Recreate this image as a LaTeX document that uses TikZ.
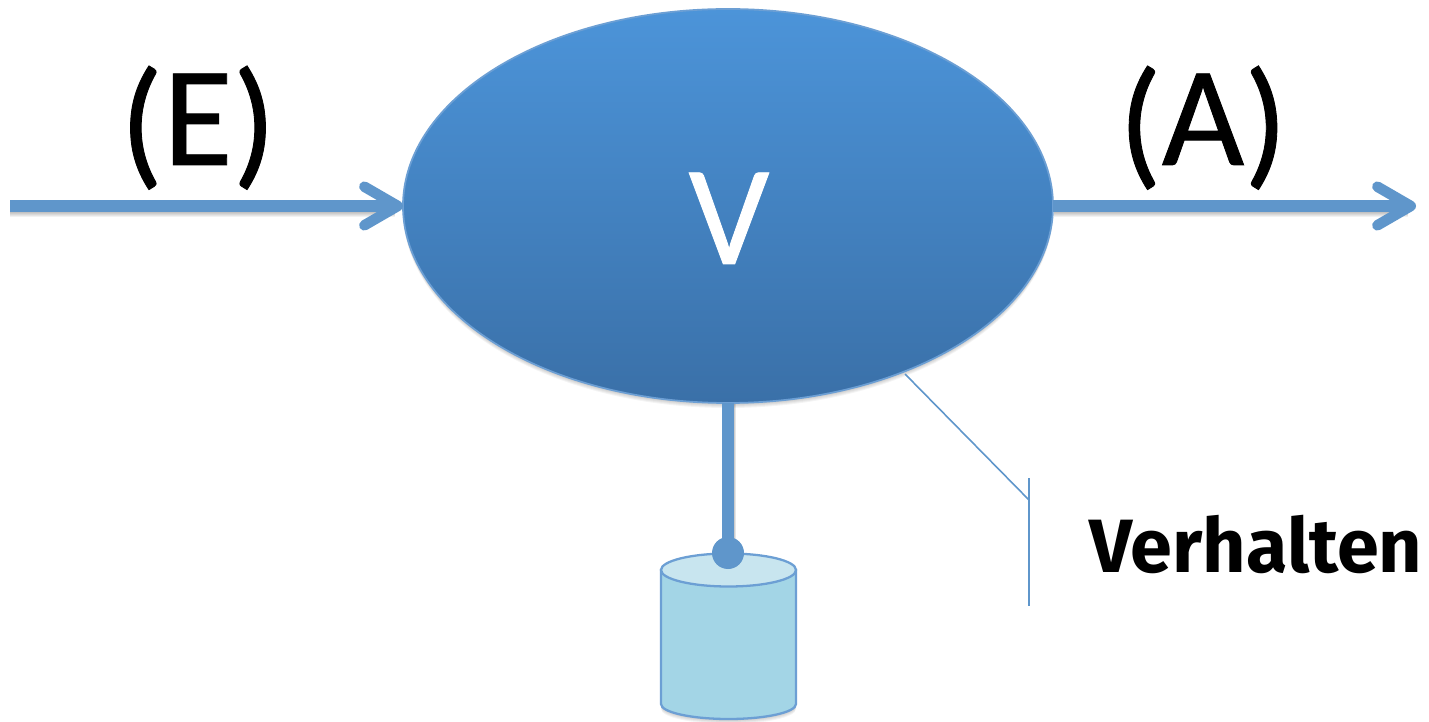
\documentclass[tikz,border=0pt]{standalone}
\usepackage{fontspec}
\setmainfont{Carlito}
\newfontfamily\bigfont{Carlito}[FakeBold=0.6]
\newfontfamily\handfont{Fira Sans}[BoldFont={Fira Sans Bold}]
\usetikzlibrary{shapes.geometric,arrows.meta}
\definecolor{linkblue}{HTML}{5F96CB}
\definecolor{edgeblue}{HTML}{6C9FD4}
\definecolor{topblue}{HTML}{4C94D9}
\definecolor{botblue}{HTML}{3A70A8}
\definecolor{cylbody}{HTML}{A3D5E6}
\definecolor{cyltop}{HTML}{C8E5EF}
\newcommand{\lowparen}[1]{\raisebox{-2.8pt}{#1}}
\tikzset{
  x=0.02cm,y=-0.02cm,
  bigtext/.style={font=\bigfont\fontsize{81pt}{81pt}\selectfont,inner sep=0pt,anchor=base},
  handtext/.style={inner sep=0pt,font=\handfont\bfseries\fontsize{43pt}{43pt}\selectfont,anchor=base},
  flow/.style={draw=linkblue,line width=6.6pt,-{Straight Barb[length=19pt,width=22pt,round,line width=6pt]}},
  stem/.style={draw=linkblue,line width=6.6pt},
  soft/.style={draw=black,draw opacity=0.05},
  softfill/.style={fill=black,fill opacity=0.045,draw=none},
  tick/.style={draw=linkblue,line width=0.9pt},
  cyledge/.style={draw=edgeblue,line width=1.3pt},
}
\begin{document}
\begin{tikzpicture}
\useasboundingbox (0,0) rectangle (1429,722);
\fill[white] (0,0) rectangle (1429,722);
% soft shadows
\foreach \d in {1,2,3,4,5}{
  \fill[softfill] (728,206+\d) ellipse [x radius=325,y radius=197];
  \fill[softfill] (661,570+\d) -- (661,704+\d) arc[start angle=180,end angle=0,x radius=67.5,y radius=15] -- (796,570+\d) -- cycle;
  \draw[soft,line width=6.6pt] (10,206+\d) -- (395,206+\d);
  \draw[soft,line width=6.6pt] (1054,206+\d) -- (1408,206+\d);
  \draw[soft,line width=6.6pt] (728+\d/2,403) -- (728+\d/2,540);
}
% main shapes
\node[draw=edgeblue,line width=1pt,ellipse,minimum width=650*0.02cm,minimum height=394*0.02cm,inner sep=0pt,outer sep=0pt,top color=topblue,bottom color=botblue] (v) at (728,206) {};
\node[text=white,bigtext] (vt) at (729,264) {V};
\coordinate (ein) at (10,206);
\coordinate (aus) at (1416,206);
\draw[flow] (ein) -- (v.west);
\draw[flow] (v.east) -- (aus);
\node[bigtext] (e) at (198,165) {\lowparen{(}E\lowparen{)}};
\node[bigtext] (a) at (1203,165) {\lowparen{(}A\lowparen{)}};
% store
\path[fill=cylbody,cyledge] (661,570) -- (661,704) arc[start angle=180,end angle=0,x radius=67.5,y radius=15] -- (796,570) -- cycle;
\path[fill=cyltop,cyledge] (728.5,570) ellipse [x radius=67.5,y radius=16.5];
\node[circle,fill=linkblue,minimum size=32*0.02cm,inner sep=0pt,outer sep=0pt] (dot) at (728,553) {};
\draw[stem] (v.south) -- (dot.center);
% callout
\coordinate (cta) at (1029,478);
\coordinate (ctb) at (1029,606);
\coordinate (ctm) at (1029,500);
\coordinate (cts) at (905,374);
\draw[tick] (cts) -- (ctm);
\draw[tick] (cta) -- (ctb);
% handwritten label
\node[handtext] (h) at (1256,572) {Verhalten};
\end{tikzpicture}
\end{document}
